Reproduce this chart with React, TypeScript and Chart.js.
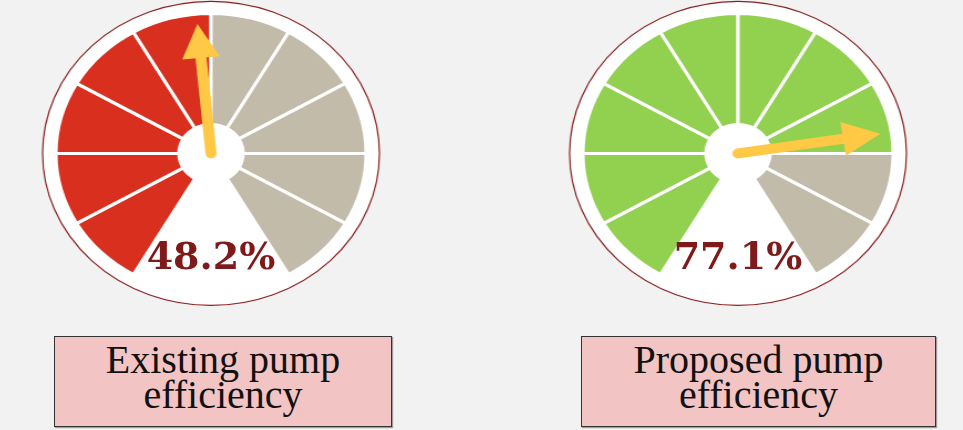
import React, { useEffect, useRef } from "react";
import { Chart, registerables } from "chart.js";

Chart.register(...registerables);

// ---- data ----
const gaugeTitles = ["Existing pump\nefficiency", "Proposed pump\nefficiency"];
const efficiencyValues = [48.2, 77.1];
const segmentValues = [1, 1, 1, 1, 1, 1, 1, 1, 1, 1];
const fillColors = ["#D92F1E", "#92D050"];
const emptyColor = "#C2BBA9";

// ---- layout / style ----
const SX = 1.108; // horizontal stretch of the gauge
const CW = 340;
const CH = 340;
const R_OUT = 140;
const R_IN = 29;
const R_RIM = 152;
const OFF_Y = (R_OUT * (1 - Math.cos(Math.PI / 6))) / 2;

const gaugeCenters = [
  { cx: 211, cy: 153 },
  { cx: 738, cy: 153 },
];
const boxes = [
  { left: 54, top: 336, width: 338, height: 91 },
  { left: 581, top: 336, width: 355, height: 91 },
];

function Gauge({ value, fill, cx, cy }: { value: number; fill: string; cx: number; cy: number }) {
  const ref = useRef<HTMLCanvasElement | null>(null);

  useEffect(() => {
    if (!ref.current) return;
    const filled = Math.ceil((value / 100) * segmentValues.length);
    const colors = segmentValues.map((_, i) => (i < filled ? fill : emptyColor));

    const decor = {
      id: "gaugeDecor",
      beforeDatasetsDraw(chart: any) {
        const arc = chart.getDatasetMeta(0).data[0];
        const { x, y } = arc;
        const ctx = chart.ctx;
        ctx.save();
        ctx.beginPath();
        ctx.arc(x, y, R_RIM, 0, Math.PI * 2);
        ctx.fillStyle = "#ffffff";
        ctx.fill();
        ctx.lineWidth = 1.2;
        ctx.strokeStyle = "#8B1F1F";
        ctx.stroke();
        ctx.restore();
      },
      afterDatasetsDraw(chart: any) {
        const arc = chart.getDatasetMeta(0).data[0];
        const { x, y } = arc;
        const ctx = chart.ctx;
        const theta = ((-150 + (value / 100) * 300) * Math.PI) / 180;
        const dx = Math.sin(theta);
        const dy = -Math.cos(theta);
        const px = -dy;
        const py = dx;
        const L = 130;
        const HL = 34;
        const HW = 17;
        ctx.save();
        ctx.strokeStyle = "#FFC845";
        ctx.fillStyle = "#FFC845";
        ctx.lineWidth = 10;
        ctx.lineCap = "round";
        ctx.beginPath();
        ctx.moveTo(x, y);
        ctx.lineTo(x + dx * (L - HL + 2), y + dy * (L - HL + 2));
        ctx.stroke();
        ctx.beginPath();
        ctx.moveTo(x + dx * L, y + dy * L);
        ctx.lineTo(x + dx * (L - HL) + px * HW, y + dy * (L - HL) + py * HW);
        ctx.lineTo(x + dx * (L - HL) - px * HW, y + dy * (L - HL) - py * HW);
        ctx.closePath();
        ctx.fill();
        ctx.restore();
      },
    };

    const chart = new Chart(ref.current, {
      type: "doughnut",
      data: {
        labels: segmentValues.map((_, i) => `Segment ${i + 1}`),
        datasets: [
          {
            data: segmentValues,
            backgroundColor: colors,
            borderColor: "#ffffff",
            borderWidth: 3,
            hoverOffset: 0,
          },
        ],
      },
      options: {
        responsive: false,
        animation: false,
        devicePixelRatio: 1,
        rotation: -150,
        circumference: 300,
        radius: R_OUT,
        cutout: `${(R_IN / R_OUT) * 100}%`,
        layout: { padding: 0 },
        plugins: {
          legend: { display: false },
          tooltip: { enabled: false },
        },
        events: [],
      },
      plugins: [decor],
    });
    return () => chart.destroy();
  }, [value, fill]);

  return (
    <canvas
      ref={ref}
      width={CW}
      height={CH}
      style={{
        position: "absolute",
        left: cx - CW / 2,
        top: cy - CH / 2 - OFF_Y,
        width: CW,
        height: CH,
        transform: `scaleX(${SX})`,
        transformOrigin: `${CW / 2}px ${CH / 2 + OFF_Y}px`,
      }}
    />
  );
}

export default function App() {
  return (
    <div
      style={{
        position: "fixed",
        left: 0,
        top: 0,
        width: 963,
        height: 430,
        overflow: "hidden",
        background: "#F2F2F2",
      }}
    >
      {efficiencyValues.map((v, i) => (
        <Gauge key={"g" + i} value={v} fill={fillColors[i]} cx={gaugeCenters[i].cx} cy={gaugeCenters[i].cy} />
      ))}
      {efficiencyValues.map((v, i) => (
        <div
          key={"t" + i}
          style={{
            position: "absolute",
            left: gaugeCenters[i].cx - 100,
            top: 237,
            width: 200,
            textAlign: "center",
            fontFamily: "'DejaVu Serif', serif",
            fontWeight: "bold",
            fontSize: 38,
            lineHeight: "38px",
            color: "#7F1A1A",
          }}
        >
          {`${v}%`}
        </div>
      ))}
      {gaugeTitles.map((t, i) => (
        <div
          key={"b" + i}
          style={{
            position: "absolute",
            left: boxes[i].left,
            top: boxes[i].top,
            width: boxes[i].width,
            height: boxes[i].height,
            boxSizing: "border-box",
            border: "1px solid #333333",
            boxShadow: "1px 1px 1px rgba(0,0,0,0.35)",
            background: "#F2C4C4",
            paddingTop: 5,
            textAlign: "center",
            whiteSpace: "pre-line",
            fontFamily: "'Liberation Serif', 'Times New Roman', serif",
            fontSize: 40,
            lineHeight: "35px",
            color: "#111111",
          }}
        >
          {t}
        </div>
      ))}
    </div>
  );
}
